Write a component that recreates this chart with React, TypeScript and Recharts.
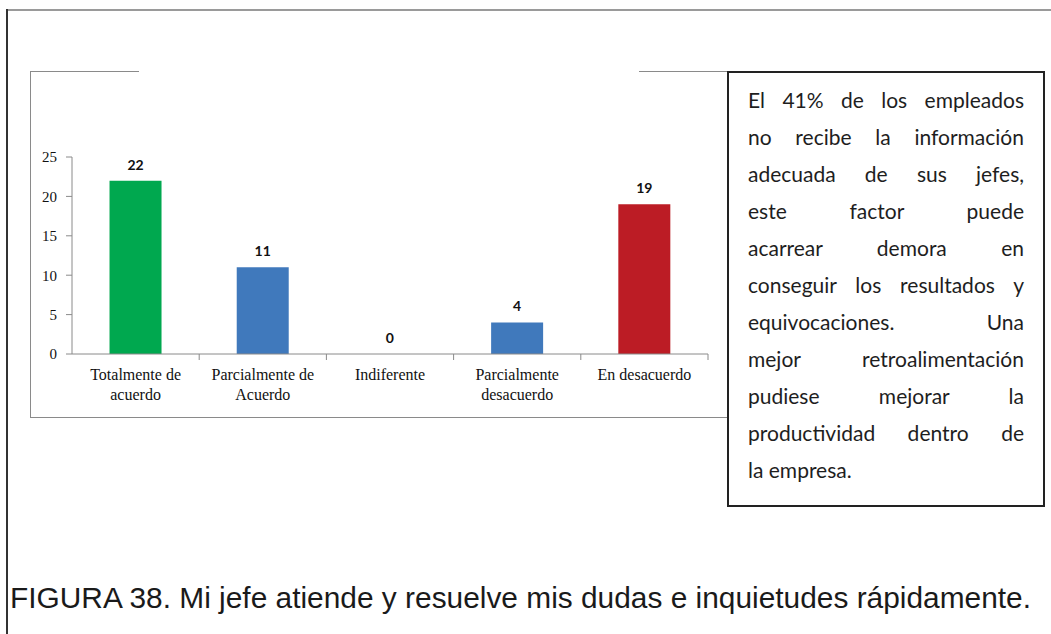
import { BarChart, Bar, XAxis, YAxis, Cell, LabelList } from "recharts";

const categories = [
  "Totalmente de\nacuerdo",
  "Parcialmente de\nAcuerdo",
  "Indiferente",
  "Parcialmente\ndesacuerdo",
  "En desacuerdo",
];
const values = [22, 11, 0, 4, 19];
const barColors = ["#00A84F", "#4079BC", "#4079BC", "#4079BC", "#BC1C25"];
const yTicks = [0, 5, 10, 15, 20, 25];

const noteLines = [
  "El 41% de los empleados",
  "no recibe la información",
  "adecuada de sus jefes,",
  "este factor puede",
  "acarrear demora en",
  "conseguir los resultados y",
  "equivocaciones. Una",
  "mejor retroalimentación",
  "pudiese mejorar la",
  "productividad dentro de",
  "la empresa.",
];

const caption =
  "FIGURA 38. Mi jefe atiende y resuelve mis dudas e inquietudes rápidamente.";

const data = categories.map((name, i) => ({ name, value: values[i] }));

const axisGrey = "#8a8a8a";

// category label plus the divider tick at the right edge of each band
const CategoryTick = (props: any) => {
  const { x, y, payload } = props;
  const half = payload && payload.offset ? payload.offset : 63.6;
  const lines = String(payload.value).split("\n");
  return (
    <g>
      <line x1={x + half} x2={x + half} y1={y} y2={y + 6} stroke={axisGrey} />
      <text
        x={x}
        y={y}
        textAnchor="middle"
        fontFamily="'Liberation Serif', serif"
        fontSize={16}
        fill="#111"
      >
        {lines.map((l, i) => (
          <tspan key={i} x={x} dy={i === 0 ? 26 : 20}>
            {l}
          </tspan>
        ))}
      </text>
    </g>
  );
};

const App = () => {
  return (
    <div
      style={{
        position: "absolute",
        left: 0,
        top: 0,
        width: 1051,
        height: 634,
        background: "#fff",
        overflow: "hidden",
      }}
    >
      {/* outer frame */}
      <div style={{ position: "absolute", left: 6, top: 9, width: 1045, height: 2, background: "#9a9a9a" }} />
      <div style={{ position: "absolute", left: 6, top: 9, width: 2, height: 625, background: "#333" }} />

      {/* chart frame, top edge broken in the middle */}
      <div style={{ position: "absolute", left: 30, top: 71, width: 1, height: 346, background: axisGrey }} />
      <div style={{ position: "absolute", left: 30, top: 417, width: 698, height: 1, background: axisGrey }} />
      <div style={{ position: "absolute", left: 30, top: 71, width: 109, height: 1, background: axisGrey }} />
      <div style={{ position: "absolute", left: 639, top: 71, width: 89, height: 1, background: axisGrey }} />

      <div style={{ position: "absolute", left: 30, top: 71 }}>
        <BarChart
          width={698}
          height={346}
          data={data}
          margin={{ top: 86, right: 20, bottom: 13, left: 0 }}
          barCategoryGap="29.5%"
        >
          <XAxis
            dataKey="name"
            interval={0}
            height={50}
            tickLine={false}
            tickSize={0}
            tickMargin={0}
            stroke={axisGrey}
            tick={<CategoryTick />}
          />
          <YAxis
            width={42}
            domain={[0, 25]}
            ticks={yTicks}
            interval={0}
            tickSize={6}
            tickMargin={9}
            stroke={axisGrey}
            tick={{ fill: "#111", fontSize: 15, fontFamily: "'Liberation Serif', serif" }}
          />
          <Bar
            dataKey="value"
            isAnimationActive={false}
            minPointSize={(v: number) => (v === 0 ? 0.01 : 0)}
          >
            {data.map((d, i) => (
              <Cell key={d.name} fill={barColors[i]} />
            ))}
            <LabelList
              dataKey="value"
              position="top"
              offset={11}
              fill="#111"
              fontSize={14}
              fontWeight={700}
              fontFamily="Lato, sans-serif"
            />
          </Bar>
        </BarChart>
      </div>

      {/* comment box */}
      <div
        style={{
          position: "absolute",
          left: 727,
          top: 71,
          width: 318,
          height: 436,
          boxSizing: "border-box",
          border: "2px solid #222",
          background: "#fff",
          padding: "8px 19px 0 19px",
          fontFamily: "Lato, 'Open Sans', sans-serif",
          fontSize: 21,
          color: "#1e1e1e",
        }}
      >
        {noteLines.map((line, i) => (
          <div
            key={i}
            style={{
              height: 37,
              lineHeight: "37px",
              textAlign: "justify",
              textAlignLast: i === noteLines.length - 1 ? "left" : "justify",
              whiteSpace: "nowrap",
            }}
          >
            {line}
          </div>
        ))}
      </div>

      {/* figure caption */}
      <svg style={{ position: "absolute", left: 0, top: 570 }} width={1051} height={64}>
        <text
          x={10}
          y={38}
          fontSize={30}
          fontFamily="'Liberation Sans Narrow', 'Liberation Sans', Arial, sans-serif"
          fill="#1a1a1a"
          textLength={1021}
          lengthAdjust="spacingAndGlyphs"
        >
          {caption}
        </text>
      </svg>
    </div>
  );
};

export default App;
